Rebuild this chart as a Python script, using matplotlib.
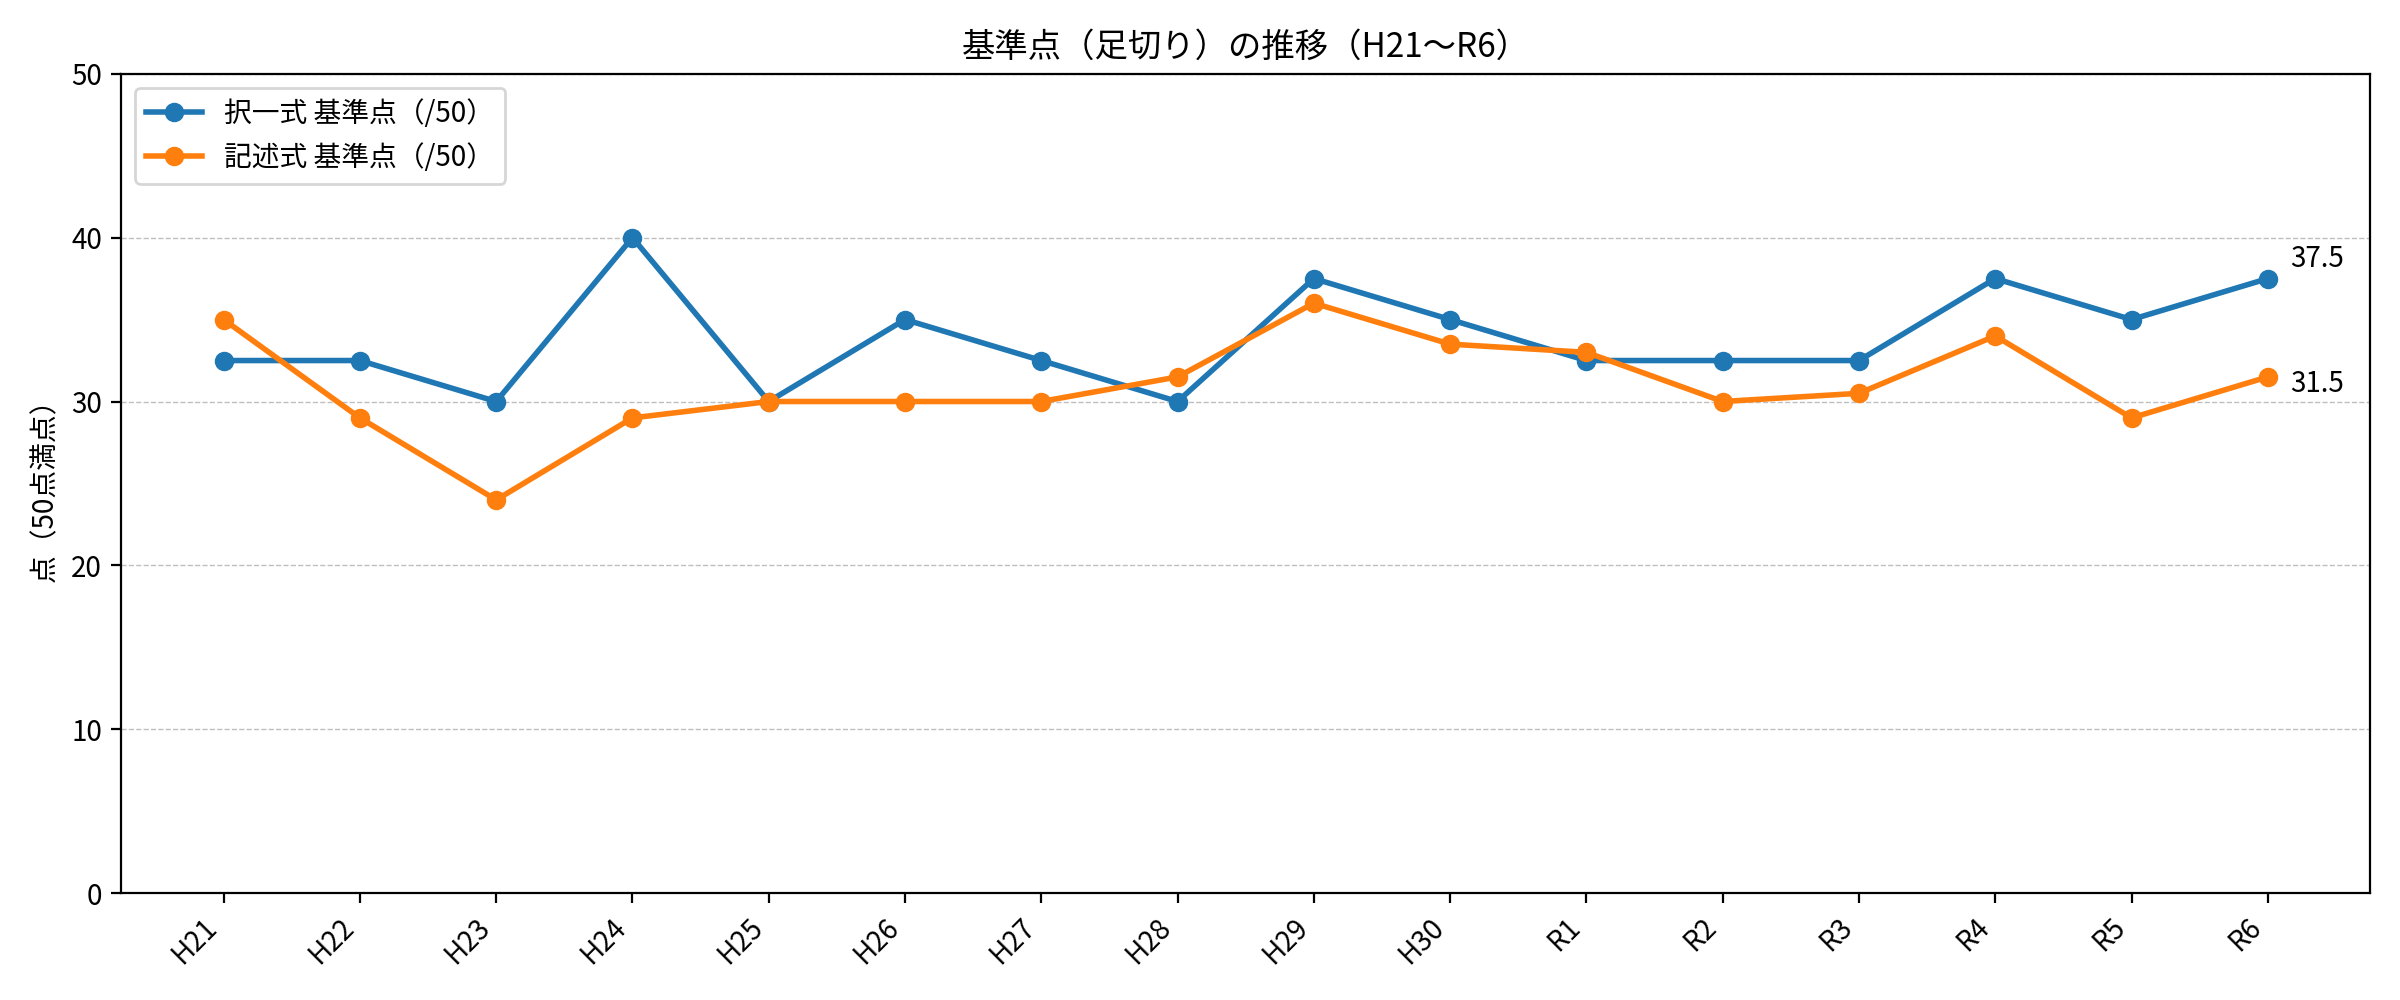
import matplotlib
matplotlib.use("Agg")
import matplotlib.pyplot as plt

plt.rcParams['font.family'] = ['Noto Sans CJK JP', 'DejaVu Sans']

years = ["H21", "H22", "H23", "H24", "H25", "H26", "H27", "H28",
         "H29", "H30", "R1", "R2", "R3", "R4", "R5", "R6"]
takuitsu = [32.5, 32.5, 30, 40, 30, 35, 32.5, 30,
            37.5, 35, 32.5, 32.5, 32.5, 37.5, 35, 37.5]
kijutsu = [35, 29, 24, 29, 30, 30, 30, 31.5,
           36, 33.5, 33, 30, 30.5, 34, 29, 31.5]

fig, ax = plt.subplots(figsize=(12, 5), dpi=200)
x = list(range(len(years)))
ax.plot(x, takuitsu, marker="o", linewidth=2, label="択一式 基準点（/50）")
ax.plot(x, kijutsu, marker="o", linewidth=2, label="記述式 基準点（/50）")

# 最終年だけ値を書く
ax.annotate(f"{takuitsu[-1]}", (x[-1], takuitsu[-1]), xytext=(8, 7),
            textcoords="offset points", va="center", fontsize=10)
ax.annotate(f"{kijutsu[-1]}", (x[-1], kijutsu[-1]), xytext=(8, -2.5),
            textcoords="offset points", va="center", fontsize=10)

ax.set_xticks(x)
ax.set_xticklabels(years, rotation=45, ha="right")
ax.set_ylim(0, 50)
ax.set_ylabel("点（50点満点）")
ax.set_title("基準点（足切り）の推移（H21〜R6）")
ax.grid(axis="y", linestyle="--", linewidth=0.5, alpha=0.8)
ax.legend(loc="upper left")

fig.tight_layout()
fig.savefig("out.png")
